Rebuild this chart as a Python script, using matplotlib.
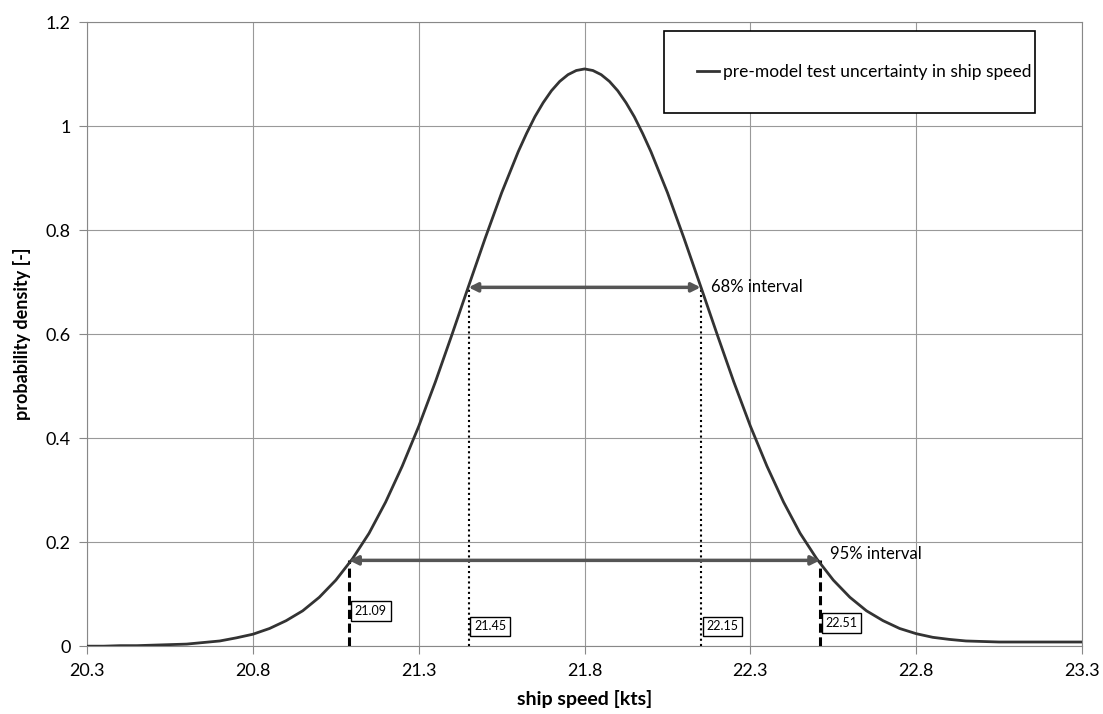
import matplotlib.pyplot as plt

plt.rcParams['font.family'] = ['Lato', 'DejaVu Sans']

# curve (ship speed in kts, probability density)
speed = [20.30, 20.35, 20.40, 20.45, 20.50, 20.55, 20.60, 20.65, 20.70, 20.75,
         20.80, 20.85, 20.90, 20.95, 21.00, 21.05, 21.10, 21.15, 21.20, 21.25,
         21.30, 21.35, 21.40, 21.45, 21.50, 21.55, 21.60, 21.625, 21.65, 21.675,
         21.70, 21.725, 21.75, 21.775, 21.80, 21.825, 21.85, 21.875, 21.90, 21.925,
         21.95, 21.975, 22.00, 22.05, 22.10, 22.15, 22.20, 22.25,
         22.30, 22.35, 22.40, 22.45, 22.50, 22.55, 22.60, 22.65, 22.70, 22.75,
         22.80, 22.85, 22.90, 22.95, 23.00, 23.05, 23.10, 23.15, 23.20, 23.25,
         23.30]
density = [0.000, 0.000, 0.001, 0.001, 0.002, 0.003, 0.004, 0.007, 0.010, 0.016,
           0.023, 0.034, 0.049, 0.068, 0.094, 0.127, 0.168, 0.217, 0.277, 0.346,
           0.423, 0.508, 0.599, 0.692, 0.784, 0.872, 0.951, 0.986, 1.018, 1.045,
           1.068, 1.086, 1.099, 1.107, 1.110, 1.107, 1.099, 1.086, 1.068, 1.045,
           1.018, 0.986, 0.951, 0.872, 0.784, 0.692, 0.599, 0.508,
           0.423, 0.346, 0.277, 0.217, 0.168, 0.127, 0.094, 0.068, 0.049, 0.034,
           0.024, 0.017, 0.013, 0.010, 0.009, 0.008, 0.008, 0.008, 0.008, 0.008,
           0.008]

# interval bounds and the density level their arrows sit on
bounds_68 = [21.45, 22.15]
level_68 = 0.69
bounds_95 = [21.09, 22.51]
level_95 = 0.165
bound_labels = ['21.09', '21.45', '22.15', '22.51']
bound_values = [21.09, 21.45, 22.15, 22.51]
label_heights = [0.068, 0.038, 0.038, 0.045]

fig = plt.figure(figsize=(11.03, 7.14), dpi=100)
ax = fig.add_axes([0.079, 0.095, 0.902, 0.874])

ax.plot(speed, density, color='#333333', lw=2.0, solid_joinstyle='round',
        label='pre-model test uncertainty in ship speed', zorder=4)

# vertical markers
ax.vlines(bounds_68, 0, level_68, colors='black', linestyles=(0, (1, 1.5)), lw=1.5, zorder=3)
ax.vlines(bounds_95, 0, level_95, colors='black', linestyles=(0, (3, 1.5)), lw=2.2, zorder=3)

# double-headed arrows
arrow_style = dict(arrowstyle='<|-|>', color='#555555', lw=2.5, mutation_scale=13,
                   shrinkA=0, shrinkB=0)
ax.annotate('', xy=(bounds_68[0], level_68), xytext=(bounds_68[1], level_68),
            arrowprops=arrow_style, zorder=5)
ax.annotate('', xy=(bounds_95[0], level_95), xytext=(bounds_95[1], level_95),
            arrowprops=arrow_style, zorder=5)
ax.text(bounds_68[1] + 0.03, level_68, '68% interval', fontsize=12, va='center')
ax.text(bounds_95[1] + 0.03, level_95 + 0.012, '95% interval', fontsize=12, va='center')

for lab, xv, yv in zip(bound_labels, bound_values, label_heights):
    ax.text(xv + 0.017, yv, lab, fontsize=9, va='center', ha='left',
            bbox=dict(boxstyle='square,pad=0.3', fc='white', ec='black', lw=1.0))

ax.set_xlim(20.3, 23.3)
ax.set_ylim(0, 1.2)
ax.set_xticks([20.3, 20.8, 21.3, 21.8, 22.3, 22.8, 23.3])
ax.set_xticklabels(['20.3', '20.8', '21.3', '21.8', '22.3', '22.8', '23.3'])
ax.set_yticks([0, 0.2, 0.4, 0.6, 0.8, 1.0, 1.2])
ax.set_yticklabels(['0', '0.2', '0.4', '0.6', '0.8', '1', '1.2'])
ax.tick_params(labelsize=13, length=6, color='#888888', width=0.8, pad=6)
ax.grid(True, color='#999999', lw=0.8)
ax.set_axisbelow(True)
for s in ax.spines.values():
    s.set_color('#888888')
    s.set_linewidth(0.8)

ax.set_xlabel('ship speed [kts]', fontsize=14, fontweight='bold', labelpad=8)
ax.set_ylabel('probability density [-]', fontsize=13, fontweight='bold', labelpad=10)

leg = ax.legend(loc='center', bbox_to_anchor=(0.571, 0.85, 0.39, 0.14), mode='expand',
                fontsize=12.5, frameon=True, fancybox=False, framealpha=1,
                edgecolor='black', borderpad=1.9, handlelength=1.3, handletextpad=0.2)
leg.get_frame().set_linewidth(1.2)

fig.savefig('out.png', dpi=100)
